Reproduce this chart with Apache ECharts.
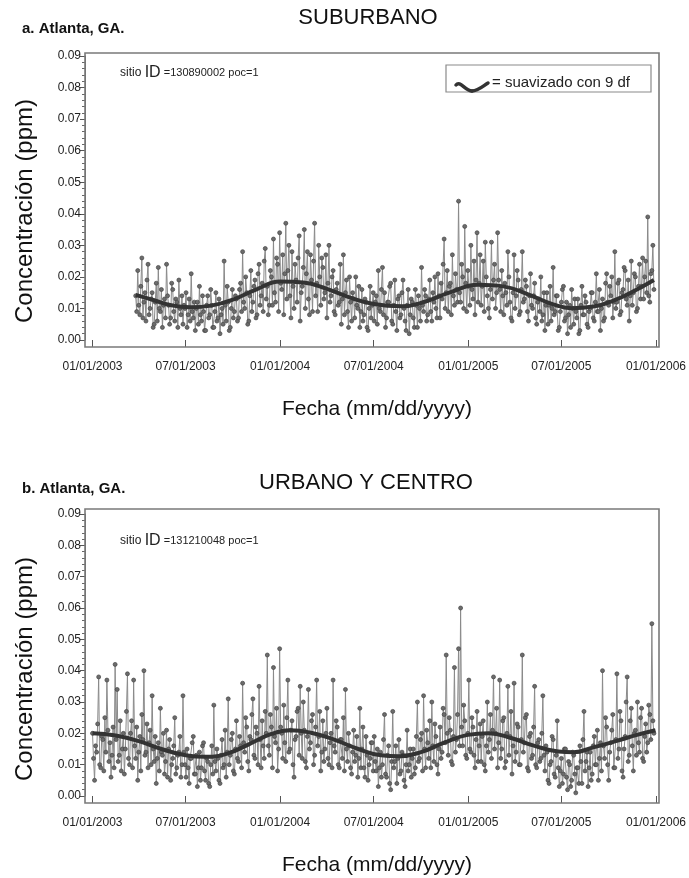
<!DOCTYPE html>
<html>
<head>
<meta charset="utf-8">
<script src="https://cdn.jsdelivr.net/npm/echarts@6/dist/echarts.min.js"></script>
<style>
html,body{margin:0;padding:0;background:#ffffff;}
#chart{width:689px;height:878px;}
</style>
</head>
<body>
<div id="chart"></div>
<script>
// ---------- DATA ----------
const xTickDates = ['2003-01-01','2003-07-01','2004-01-01','2004-07-01','2005-01-01','2005-07-01','2006-01-01'];
const xTickLabels = ['01/01/2003','07/01/2003','01/01/2004','07/01/2004','01/01/2005','07/01/2005','01/01/2006'];
const yTickLabels = ['0.00','0.01','0.02','0.03','0.04','0.05','0.06','0.07','0.08','0.09'];
const stepDays = 2; // sampling interval of the readings

// Panel a: SUBURBANO, sitio ID 130890002 (values in ppb = 0.001 ppm)
const topStart = '2003-03-26';
const topValuesPpb = [
  14,9,22,11,8,17,26,7,12,15,6,19,24,8,10,13,15,4,5,12,18,6,23,10,9,16,4,11,13,7,24,14,11,5,7,18,16,9,6,13,12,4,19,10,8,14,5,11,
  10,15,4,8,13,6,21,9,7,12,3,10,12,5,17,8,6,14,9,3,3,11,14,7,8,16,11,4,4,9,15,6,7,13,2,8,10,5,25,11,6,17,12,3,4,10,16,7,9,14,
  13,6,7,16,18,9,28,12,10,20,15,5,6,14,22,9,12,17,19,7,8,21,24,11,14,18,9,25,29,13,17,8,11,22,
  20,11,32,15,12,26,24,9,34,18,16,27,8,21,37,13,22,30,14,7,28,17,10,24,19,12,26,33,6,15,17,23,35,10,21,28,13,8,27,19,9,25,37,14,18,9,30,20,11,26,23,13,15,27,7,18,30,12,
  14,20,22,9,8,16,18,11,12,24,5,13,27,8,15,19,9,4,20,12,6,15,13,7,20,11,10,17,4,9,16,6,8,13,12,4,3,10,17,7,11,15,6,12,14,5,22,10,9,16,23,8,15,4,7,12,12,17,18,6,5,11,19,9,3,13,14,7,8,15,19,10,6,3,11,16,2,8,13,12,7,4,16,11,4,14,10,6,
  23,11,9,16,14,6,8,13,19,9,6,15,12,20,10,7,21,14,7,18,13,24,32,10,15,22,9,17,18,8,27,14,11,21,16,12,
  44,15,12,24,20,10,36,18,9,22,17,11,30,16,13,25,8,19,34,12,18,27,11,17,25,9,31,20,14,10,7,16,31,13,19,24,10,15,34,19,16,9,22,14,8,18,15,11,28,20,12,7,6,15,27,10,14,22,19,8,9,16,28,12,13,19,17,9,6,14,21,11,
  10,14,18,7,5,12,13,9,20,6,8,15,3,11,15,5,11,17,6,10,23,8,9,14,14,3,4,9,12,16,17,6,7,12,2,8,11,4,16,10,5,13,9,7,13,2,3,11,17,8,8,14,12,5,4,9,10,15,15,7,6,12,21,9,9,16,3,10,13,6,7,18,21,12,11,17,
  14,20,7,12,28,10,12,18,19,8,9,15,16,23,22,13,11,19,6,14,25,11,15,21,20,9,10,17,24,13,17,26,13,20,25,15,39,14,12,21,22,30,16
];
const topSmoothDates = ['2003-03-26','2003-05-01','2003-06-01','2003-07-10','2003-08-20','2003-10-01','2003-11-15',
  '2004-01-01','2004-02-15','2004-04-01','2004-05-15','2004-07-01','2004-08-25','2004-10-10','2004-11-25',
  '2005-01-20','2005-03-10','2005-05-01','2005-06-15','2005-07-20','2005-09-01','2005-10-15','2005-11-25','2005-12-28'];
const topSmoothPpb = [14.3,12.6,11.1,10.4,10.9,12.8,16.0,
  18.5,18.2,16.2,13.5,11.4,10.7,12.2,15.0,
  17.5,17.0,14.2,11.3,10.1,10.6,12.8,16.0,19.0];

// Panel b: URBANO Y CENTRO, sitio ID 131210048
const bottomStart = '2003-01-01';
const bottomValuesPpb = [
  20,12,5,16,14,23,38,10,9,19,18,8,25,14,37,21,11,17,6,13,22,9,42,18,34,11,13,24,8,15,20,7,15,27,39,12,10,20,24,9,37,16,12,22,5,14,19,8,26,18,40,13,14,23,9,17,21,10,32,15,11,19,4,12,17,8,28,14,13,20,7,11,21,6,15,18,5,10,12,16,25,7,9,13,14,19,6,10,
  32,14,10,6,15,9,4,12,12,17,19,7,7,13,3,9,14,5,9,16,17,8,5,12,11,4,3,10,16,7,29,11,8,15,12,5,4,13,18,9,10,21,6,14,31,10,13,18,20,8,7,15,24,12,11,19,16,9,
  36,17,14,25,22,11,8,19,18,26,31,13,12,22,20,10,35,18,9,24,16,12,27,20,45,16,13,26,22,9,41,19,17,28,8,15,47,22,20,12,29,17,11,25,37,14,15,21,24,10,6,18,19,27,28,13,35,20,12,30,21,11,9,19,34,15,17,24,26,10,13,22,37,16,19,27,8,14,24,11,15,20,28,12,10,17,20,9,
  37,16,14,24,22,10,9,18,18,12,25,8,34,15,11,20,16,9,7,14,21,11,13,19,6,12,28,9,15,22,9,6,19,13,5,10,12,17,17,8,19,11,8,15,3,9,14,6,10,18,26,7,6,13,16,4,2,11,27,9,11,16,4,12,18,7,8,14,13,5,3,10,21,8,10,15,6,12,15,7,9,19,
  30,11,12,18,20,8,32,15,9,21,17,12,24,9,30,16,11,23,19,10,7,15,22,12,14,28,26,17,45,20,13,25,21,11,10,19,41,14,18,26,47,16,60,22,16,29,24,13,12,20,37,15,
  14,25,22,13,9,18,27,11,16,23,11,19,24,10,8,16,30,14,18,26,12,21,38,15,20,28,9,17,37,12,15,24,25,9,11,20,35,13,19,27,7,16,36,11,14,23,22,10,10,18,45,14,17,25,26,9,8,19,20,12,13,22,35,10,9,17,18,11,12,20,32,13,
  8,16,14,5,4,10,11,19,18,7,6,13,24,9,3,8,12,4,7,15,15,6,2,11,10,3,5,14,13,7,1,9,9,4,16,11,4,18,27,8,11,14,3,9,14,5,7,16,19,10,10,21,5,12,17,8,
  40,16,12,25,22,10,5,14,17,21,26,9,9,18,39,12,15,27,24,8,6,15,19,30,38,11,13,24,28,16,8,20,21,13,30,17,14,25,28,12,11,19,23,14,17,29,26,18,55,24,20
];
const bottomSmoothDates = ['2003-01-01','2003-02-15','2003-04-01','2003-05-15','2003-07-01','2003-08-10','2003-09-20',
  '2003-11-01','2003-12-15','2004-01-20','2004-03-01','2004-04-15','2004-06-01','2004-07-15','2004-08-20',
  '2004-10-01','2004-11-15','2004-12-31','2005-02-10','2005-03-25','2005-05-10','2005-06-25','2005-07-25',
  '2005-09-01','2005-10-15','2005-11-25','2005-12-31'];
const bottomSmoothPpb = [20.0,19.3,17.5,15.0,13.0,12.5,13.5,
  16.5,19.8,21.0,20.2,18.0,15.0,13.0,12.7,
  14.0,17.0,19.5,20.0,18.5,16.0,14.2,14.0,
  15.5,17.5,19.5,21.0];

// ---------- BUILD ----------
const DAY = 86400000;
const ts = s => Date.parse(s + 'T00:00:00Z');
const toPpm = v => v / 1000;
const regular = (start, vals) => { const t0 = ts(start); return vals.map((v, i) => [t0 + i * stepDays * DAY, toPpm(v)]); };
const paired = (dates, vals) => dates.map((d, i) => [ts(d), toPpm(vals[i])]);
const tickTs = xTickDates.map(ts);

const FONT = '"Liberation Sans", Arial, Helvetica, sans-serif';
const panels = [
  {top: 56, height: 284, frameTop: 53, frameBottom: 347, yNameY: 211},
  {top: 514, height: 282, frameTop: 509, frameBottom: 803, yNameY: 669}
];
const gridLeft = 92.5, gridRight = 656, frameLeft = 85, frameRight = 659;

const grids = panels.map(p => ({left: gridLeft, width: gridRight - gridLeft, top: p.top, height: p.height, containLabel: false}));

const xAxes = panels.map((p, k) => ({
  type: 'value', gridIndex: k,
  min: tickTs[0], max: tickTs[tickTs.length - 1],
  offset: p.frameBottom - (p.top + p.height),
  axisLine: {show: false},
  axisTick: {show: true, customValues: tickTs, length: 7, lineStyle: {color: '#555', width: 1}},
  axisLabel: {show: true, customValues: tickTs, margin: 14, fontSize: 12, color: '#222', fontFamily: FONT,
    formatter: v => { const i = tickTs.indexOf(v); return i >= 0 ? xTickLabels[i] : ''; }},
  splitLine: {show: false}
}));

const yAxes = panels.map((p, k) => ({
  type: 'value', gridIndex: k, min: 0, max: 0.09, interval: 0.01,
  offset: gridLeft - frameLeft,
  axisLine: {show: true, lineStyle: {color: '#666', width: 1}},
  axisTick: {show: true, length: 5, lineStyle: {color: '#555'}},
  minorTick: {show: true, splitNumber: 5, length: 3, lineStyle: {color: '#666'}},
  axisLabel: {margin: 4, fontSize: 12, color: '#222', fontFamily: FONT,
    formatter: v => yTickLabels[Math.round(v * 100)] || ''},
  splitLine: {show: false}
}));

const noisyStyle = {
  type: 'line', symbol: 'circle', symbolSize: 4, showSymbol: true,
  lineStyle: {color: '#8a8a8a', width: 1},
  itemStyle: {color: '#6c6c6c', borderColor: '#454545', borderWidth: 0.7},
  emphasis: {disabled: true}, animation: false, z: 2
};
const smoothStyle = {
  type: 'line', symbol: 'none', smooth: 0.45,
  lineStyle: {color: '#333333', width: 4},
  emphasis: {disabled: true}, animation: false, z: 3
};

const series = [
  Object.assign({name: 'a', xAxisIndex: 0, yAxisIndex: 0, data: regular(topStart, topValuesPpb)}, noisyStyle),
  Object.assign({name: '= suavizado con 9 df', xAxisIndex: 0, yAxisIndex: 0, data: paired(topSmoothDates, topSmoothPpb)}, smoothStyle),
  Object.assign({name: 'b', xAxisIndex: 1, yAxisIndex: 1, data: regular(bottomStart, bottomValuesPpb)}, noisyStyle),
  Object.assign({name: 'b-smooth', xAxisIndex: 1, yAxisIndex: 1, data: paired(bottomSmoothDates, bottomSmoothPpb)}, smoothStyle)
];

const txt = (x, y, text, font, extra) => Object.assign({
  type: 'text', x: x, y: y, silent: true, z: 50,
  style: Object.assign({text: text, font: font, fill: '#111', textAlign: 'left', textVerticalAlign: 'middle'}, (extra && extra.style) || {})
}, extra && extra.el || {});

const graphics = [];
panels.forEach((p, k) => {
  graphics.push({type: 'rect', silent: true, z: 40,
    shape: {x: frameLeft, y: p.frameTop, width: frameRight - frameLeft, height: p.frameBottom - p.frameTop},
    style: {fill: 'none', stroke: '#7a7a7a', lineWidth: 1.6}});
  graphics.push(txt(25, p.yNameY, 'Concentración (ppm)', '24px ' + FONT,
    {el: {rotation: Math.PI / 2}, style: {textAlign: 'center'}}));
  graphics.push(txt(377, p.frameBottom + 62, 'Fecha (mm/dd/yyyy)', '21px ' + FONT, {style: {textAlign: 'center'}}));
});

graphics.push(txt(368, 18, 'SUBURBANO', '22px ' + FONT, {style: {textAlign: 'center'}}));
graphics.push(txt(22, 29, 'a. Atlanta, GA.', 'bold 15px ' + FONT));
graphics.push(txt(366, 483, 'URBANO Y CENTRO', '22px ' + FONT, {style: {textAlign: 'center'}}));
graphics.push(txt(22, 489, 'b. Atlanta, GA.', 'bold 15px ' + FONT));

const siteText = (y, id) => ({
  type: 'text', x: 120, y: y, silent: true, z: 50,
  style: {text: '{a|sitio }{b|ID}{c| =' + id + ' poc=1}', textVerticalAlign: 'middle', fill: '#222',
    rich: {a: {fontSize: 12, fontFamily: FONT, fill: '#222'}, b: {fontSize: 16, fontFamily: FONT, fill: '#222'}, c: {fontSize: 11, fontFamily: FONT, fill: '#222'}}}
});
graphics.push(siteText(73, '130890002'));
graphics.push(siteText(541, '131210048'));

graphics.push({type: 'rect', silent: true, z: 45, shape: {x: 446, y: 65, width: 205, height: 27},
  style: {fill: '#fff', stroke: '#8a8a8a', lineWidth: 1.2}});
graphics.push({type: 'bezierCurve', silent: true, z: 46,
  shape: {x1: 456, y1: 85, cpx1: 460, cpy1: 80, cpx2: 465, cpy2: 91, x2: 472, y2: 91},
  style: {fill: 'none', stroke: '#333', lineWidth: 3.5, lineCap: 'round'}});
graphics.push({type: 'bezierCurve', silent: true, z: 46,
  shape: {x1: 472, y1: 91, cpx1: 478, cpy1: 91, cpx2: 483, cpy2: 86, x2: 488, y2: 83},
  style: {fill: 'none', stroke: '#333', lineWidth: 3.5, lineCap: 'round'}});
graphics.push(txt(492, 83, '= suavizado con 9 df', '15px ' + FONT, {style: {fill: '#222'}}));

const chart = echarts.init(document.getElementById('chart'), null, {renderer: 'canvas'});
chart.setOption({
  animation: false,
  backgroundColor: '#ffffff',
  grid: grids,
  xAxis: xAxes,
  yAxis: yAxes,
  series: series,
  graphic: graphics
});
</script>
</body>
</html>
